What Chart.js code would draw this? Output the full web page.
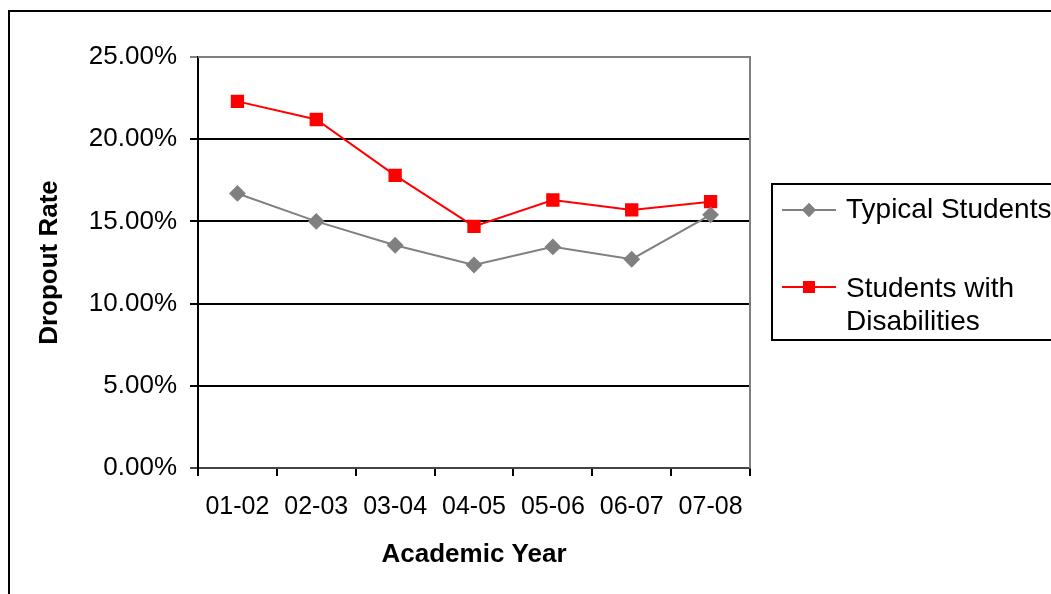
<!DOCTYPE html>
<html>
<head>
<meta charset="utf-8">
<title>Dropout Rate by Academic Year</title>
<script src="https://cdn.jsdelivr.net/npm/chart.js@4.4.1/dist/chart.umd.min.js"></script>
<style>
  html, body { margin: 0; padding: 0; background: #ffffff; overflow: hidden; }
  canvas { display: block; }
</style>
</head>
<body>
<canvas id="chart" width="1051" height="594"></canvas>
<script>
// Academic years on the x axis
const years = ['01-02', '02-03', '03-04', '04-05', '05-06', '06-07', '07-08'];

// Dropout rates, in percent
const typicalStudents = [16.7, 15.0, 13.55, 12.35, 13.45, 12.7, 15.4];
const studentsWithDisabilities = [22.3, 21.2, 17.8, 14.7, 16.3, 15.7, 16.2];

// Y axis range and tick step, in percent
const yMin = 0;
const yMax = 25;
const yStep = 5;

const seriesNames = ['Typical Students', ['Students with', 'Disabilities']];

const FONT = '"Liberation Sans", Arial, Helvetica, sans-serif';
const GRAY = '#808080';
const RED = '#ff0000';

// Outer chart frame and the gray top/right edges of the plot area
const framePlugin = {
  id: 'frame',
  beforeDatasetsDraw(chart) {
    const { ctx, chartArea: a } = chart;
    ctx.save();
    ctx.strokeStyle = GRAY;
    ctx.lineWidth = 2;
    ctx.beginPath();
    ctx.moveTo(a.left, a.top);
    ctx.lineTo(a.right, a.top);
    ctx.lineTo(a.right, a.bottom);
    ctx.stroke();
    ctx.restore();
  },
  afterDraw(chart) {
    const { ctx } = chart;
    ctx.save();
    ctx.strokeStyle = '#000000';
    ctx.lineWidth = 2;
    ctx.strokeRect(9, 11, 1100, 700);
    ctx.restore();
  }
};

// Boxed legend at the right of the plot, built from the dataset styles
const boxLegendPlugin = {
  id: 'boxLegend',
  afterDraw(chart) {
    const { ctx } = chart;
    const box = { left: 772, top: 184, right: 1080, bottom: 340 };
    const rows = [
      { baselines: [218], lineY: 210 },
      { baselines: [297, 330], lineY: 287 }
    ];
    ctx.save();
    ctx.strokeStyle = '#000000';
    ctx.lineWidth = 2;
    ctx.strokeRect(box.left, box.top, box.right - box.left, box.bottom - box.top);

    chart.data.datasets.forEach((ds, i) => {
      const row = rows[i];
      ctx.strokeStyle = ds.borderColor;
      ctx.lineWidth = 2;
      ctx.beginPath();
      ctx.moveTo(782, row.lineY);
      ctx.lineTo(836, row.lineY);
      ctx.stroke();
      Chart.helpers.drawPoint(ctx, {
        pointStyle: ds.pointStyle,
        radius: ds.legendPointRadius,
        borderWidth: 1,
        rotation: 0
      }, 809, row.lineY);
      ctx.fillStyle = ds.backgroundColor;
      ctx.strokeStyle = ds.borderColor;
      ctx.fill();
      ctx.stroke();

      ctx.fillStyle = '#000000';
      ctx.font = '28px ' + FONT;
      ctx.textAlign = 'left';
      ctx.textBaseline = 'alphabetic';
      const lines = Array.isArray(seriesNames[i]) ? seriesNames[i] : [seriesNames[i]];
      lines.forEach((t, j) => ctx.fillText(t, 846, row.baselines[j]));
    });
    ctx.restore();
  }
};

new Chart(document.getElementById('chart'), {
  type: 'line',
  data: {
    labels: years,
    datasets: [
      {
        label: 'Typical Students',
        data: typicalStudents,
        borderColor: GRAY,
        backgroundColor: GRAY,
        borderWidth: 2,
        pointStyle: 'rectRot',
        pointRadius: 7,
        pointHoverRadius: 7,
        legendPointRadius: 5.5,
        tension: 0
      },
      {
        label: 'Students with Disabilities',
        data: studentsWithDisabilities,
        borderColor: RED,
        backgroundColor: RED,
        borderWidth: 2,
        pointStyle: 'rect',
        pointRadius: 8,
        pointHoverRadius: 8,
        legendPointRadius: 7,
        tension: 0
      }
    ]
  },
  options: {
    responsive: false,
    animation: false,
    events: [],
    layout: { padding: { left: 0, top: 57, right: 301, bottom: 0 } },
    plugins: {
      legend: { display: false },
      tooltip: { enabled: false }
    },
    scales: {
      x: {
        type: 'category',
        offset: true,
        afterFit(scale) { scale.height = 126; },
        grid: {
          offset: true,
          drawOnChartArea: false,
          drawTicks: true,
          tickLength: 8,
          color: '#000000',
          lineWidth: 2
        },
        border: { display: true, color: '#444444', width: 2 },
        ticks: {
          color: '#000000',
          font: { family: FONT, size: 25 },
          padding: 16,
          maxRotation: 0,
          autoSkip: false
        },
        title: {
          display: true,
          text: 'Academic Year',
          color: '#000000',
          font: { family: FONT, size: 26, weight: 'bold' },
          padding: { top: 0, bottom: 24 }
        }
      },
      y: {
        min: yMin,
        max: yMax,
        afterFit(scale) { scale.width = 198; },
        grid: {
          drawTicks: true,
          tickLength: 8,
          lineWidth: 2,
          color(ctx) {
            if (ctx.tick && ctx.tick.value === yMax) return GRAY;
            if (ctx.tick && ctx.tick.value === yMin) return '#444444';
            return '#000000';
          }
        },
        border: { display: true, color: '#000000', width: 2 },
        ticks: {
          stepSize: yStep,
          color: '#000000',
          font: { family: FONT, size: 26 },
          padding: 13,
          callback: (v) => Number(v).toFixed(2) + '%'
        },
        title: {
          display: true,
          text: 'Dropout Rate',
          color: '#000000',
          font: { family: FONT, size: 26, weight: 'bold' },
          padding: { top: 34, bottom: 0 }
        }
      }
    }
  },
  plugins: [framePlugin, boxLegendPlugin]
});
</script>
</body>
</html>
